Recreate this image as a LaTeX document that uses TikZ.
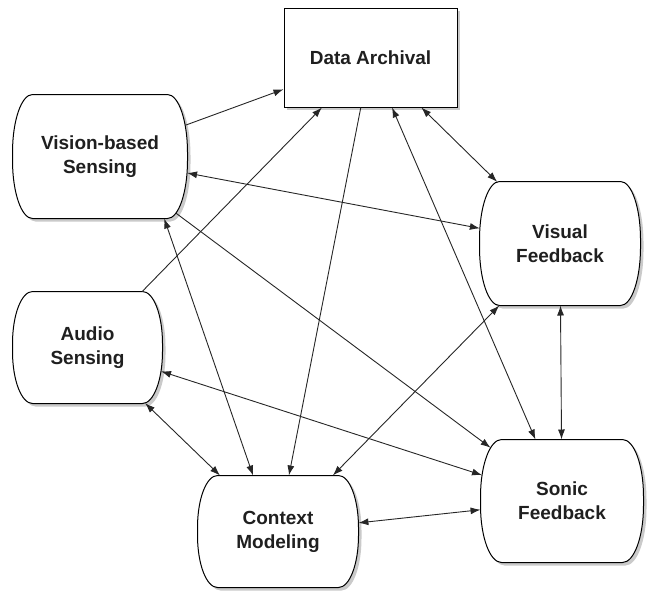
\documentclass[tikz,border=0pt]{standalone}
\usepackage{fontspec}
\setmainfont{Liberation Sans}
\usetikzlibrary{shadows,arrows.meta}
\makeatletter
\pgfkeys{/pgf/barrel rx/.initial=20pt}
\pgfkeys{/pgf/barrel ry/.initial=40pt}
\pgfdeclareshape{barrel}{%
  \inheritsavedanchors[from=rectangle]%
  \inheritanchor[from=rectangle]{center}%
  \inheritanchor[from=rectangle]{mid}%
  \inheritanchor[from=rectangle]{base}%
  \inheritanchor[from=rectangle]{north}%
  \inheritanchor[from=rectangle]{south}%
  \inheritanchor[from=rectangle]{east}%
  \inheritanchor[from=rectangle]{west}%
  \saveddimen\barrelrx{\pgfmathsetlength\pgf@x{\pgfkeysvalueof{/pgf/barrel rx}}}%
  \saveddimen\barrelry{\pgfmathsetlength\pgf@x{\pgfkeysvalueof{/pgf/barrel ry}}}%
  \anchorborder{%
    \edef\brl@dx{\the\pgf@x}%
    \edef\brl@dy{\the\pgf@y}%
    \southwest \pgf@xa=\pgf@x \pgf@ya=\pgf@y
    \northeast \pgf@xb=\pgf@x \pgf@yb=\pgf@y
    \pgf@xc=.5\pgf@xb \advance\pgf@xc by -.5\pgf@xa
    \pgf@yc=.5\pgf@yb \advance\pgf@yc by -.5\pgf@ya
    \edef\brl@W{\the\pgf@xc}\edef\brl@H{\the\pgf@yc}%
    \pgf@xa=.5\pgf@xa \advance\pgf@xa by .5\pgf@xb
    \pgf@ya=.5\pgf@ya \advance\pgf@ya by .5\pgf@yb
    \edef\brl@cx{\the\pgf@xa}\edef\brl@cy{\the\pgf@ya}%
    \pgfmathsetmacro\brl@L{veclen(\brl@dx,\brl@dy)}%
    \pgfmathsetmacro\brl@ux{\brl@dx/\brl@L}%
    \pgfmathsetmacro\brl@uy{\brl@dy/\brl@L}%
    \pgfmathsetmacro\brl@ax{abs(\brl@ux)}%
    \pgfmathsetmacro\brl@ay{abs(\brl@uy)}%
    \pgfmathsetmacro\brl@w{\brl@W/10}%
    \pgfmathsetmacro\brl@h{\brl@H/10}%
    \pgfmathsetmacro\brl@rx{\barrelrx/10}%
    \pgfmathsetmacro\brl@ry{\barrelry/10}%
    \pgfmathsetmacro\brl@tx{\brl@ax>0.0001 ? \brl@w/\brl@ax : 1000}%
    \pgfmathsetmacro\brl@ty{\brl@ay>0.0001 ? \brl@h/\brl@ay : 1000}%
    \pgfmathsetmacro\brl@t{min(\brl@tx,\brl@ty)}%
    \pgfmathtruncatemacro\brl@oncorner{and(\brl@t*\brl@ax > \brl@w-\brl@rx, \brl@t*\brl@ay > \brl@h-\brl@ry) ? 1 : 0}%
    \ifnum\brl@oncorner=1
      \pgfmathsetmacro\brl@ex{\brl@w-\brl@rx}%
      \pgfmathsetmacro\brl@ey{\brl@h-\brl@ry}%
      \pgfmathsetmacro\brl@A{\brl@ax*\brl@ax/(\brl@rx*\brl@rx)+\brl@ay*\brl@ay/(\brl@ry*\brl@ry)}%
      \pgfmathsetmacro\brl@B{\brl@ax*\brl@ex/(\brl@rx*\brl@rx)+\brl@ay*\brl@ey/(\brl@ry*\brl@ry)}%
      \pgfmathsetmacro\brl@C{\brl@ex*\brl@ex/(\brl@rx*\brl@rx)+\brl@ey*\brl@ey/(\brl@ry*\brl@ry)-1}%
      \pgfmathsetmacro\brl@t{(\brl@B+sqrt(max(\brl@B*\brl@B-\brl@A*\brl@C,0)))/\brl@A}%
    \fi
    \pgfmathsetmacro\brl@px{\brl@cx+10*\brl@t*\brl@ux}%
    \pgfmathsetmacro\brl@py{\brl@cy+10*\brl@t*\brl@uy}%
    \pgf@x=\brl@px pt\relax
    \pgf@y=\brl@py pt\relax
  }%
  \backgroundpath{%
    \southwest \pgf@xa=\pgf@x \pgf@ya=\pgf@y
    \northeast \pgf@xb=\pgf@x \pgf@yb=\pgf@y
    \edef\brl@xa{\the\pgf@xa}\edef\brl@ya{\the\pgf@ya}%
    \edef\brl@xb{\the\pgf@xb}\edef\brl@yb{\the\pgf@yb}%
    \edef\brl@rx{\barrelrx}\edef\brl@ry{\barrelry}%
    \pgfpathmoveto{\pgfpoint{\brl@xa+\brl@rx}{\brl@yb}}%
    \pgfpathlineto{\pgfpoint{\brl@xb-\brl@rx}{\brl@yb}}%
    \pgfpatharc{90}{0}{\brl@rx and \brl@ry}%
    \pgfpathlineto{\pgfpoint{\brl@xb}{\brl@ya+\brl@ry}}%
    \pgfpatharc{0}{-90}{\brl@rx and \brl@ry}%
    \pgfpathlineto{\pgfpoint{\brl@xa+\brl@rx}{\brl@ya}}%
    \pgfpatharc{-90}{-180}{\brl@rx and \brl@ry}%
    \pgfpathlineto{\pgfpoint{\brl@xa}{\brl@yb-\brl@ry}}%
    \pgfpatharc{180}{90}{\brl@rx and \brl@ry}%
    \pgfpathclose
  }%
}
\makeatother
\begin{document}
\begin{tikzpicture}[x=1pt,y=-1pt,
  lbl/.style={font=\bfseries\fontsize{19}{24}\selectfont, text=black!88, align=center},
  shad/.style={drop shadow={shadow xshift=3pt,shadow yshift=-3pt,opacity=0.35,fill=black!60}},
  rbox/.style={lbl, draw=black, line width=1pt, fill=white, shad, shape=barrel,
    barrel rx=20pt, barrel ry=58pt, inner sep=0pt},
  sbox/.style={lbl, draw=black, line width=1pt, fill=white, shad, rectangle, inner sep=0pt},
  conn/.style={line width=0.9pt, draw=black!85},
  one/.style={conn, -{Latex[length=10pt,width=7pt]}},
  two/.style={conn, {Latex[length=10pt,width=7pt]}-{Latex[length=10pt,width=7pt]}}
]
\useasboundingbox (0,0) rectangle (647,592);
\node[sbox, minimum width=173pt, minimum height=99pt] (da) at (370.5,57.5) {Data Archival};
\node[rbox, minimum width=174pt, minimum height=123pt] (vis) at (100,156.5) {Vision-based\\Sensing};
\node[rbox, minimum width=160pt, minimum height=123pt] (vf) at (560,243.5) {Visual\\Feedback};
\node[rbox, minimum width=149pt, minimum height=111pt, barrel ry=52pt] (aud) at (87.5,347.5) {Audio\\Sensing};
\node[rbox, minimum width=160pt, minimum height=111pt, barrel ry=52pt] (ctx) at (278,531.5) {Context\\Modeling};
\node[rbox, minimum width=162pt, minimum height=122pt, barrel rx=21pt, barrel ry=57pt] (sf) at (562,501) {Sonic\\Feedback};

\draw[one] (vis) -- (da);
\draw[one] (aud) -- (da);
\draw[one] (da) -- (ctx);
\draw[two] (da) -- (sf);
\draw[two] (da) -- (vf);
\draw[two] (vis) -- (vf);
\draw[one] (vis) -- (sf);
\draw[two] (vis.-44) -- (ctx.114);
\draw[two] (aud) -- (sf);
\draw[two] (aud) -- (ctx);
\draw[two] (vf) -- (ctx);
\draw[two] (vf) -- (sf);
\draw[two] (ctx) -- (sf);
\end{tikzpicture}
\end{document}
